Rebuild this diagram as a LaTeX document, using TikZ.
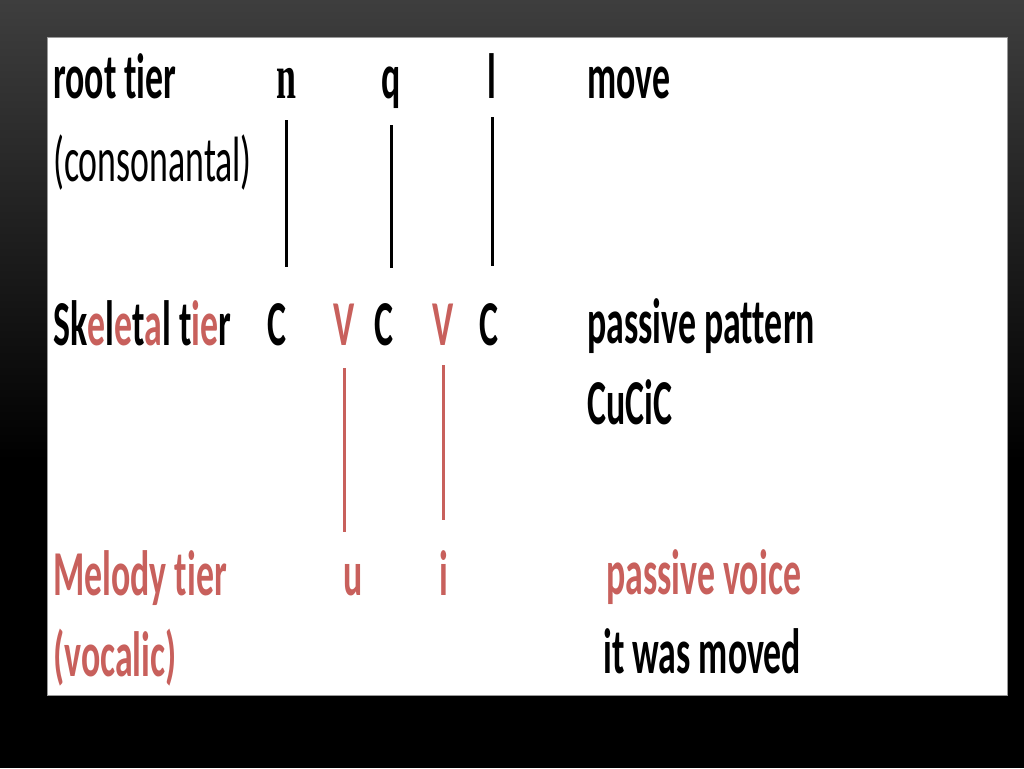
\documentclass[tikz,border=0pt]{standalone}
\usepackage{fontspec}
\setmainfont[FakeStretch=0.56, RawFeature=-liga]{Carlito}
\newfontfamily\slabfont[FakeStretch=0.56]{Liberation Serif}
\usetikzlibrary{positioning}
\definecolor{tierred}{RGB}{200,96,92}
\definecolor{slidetop}{RGB}{62,62,62}

\begin{document}
\begin{tikzpicture}[x=1pt, y=-1pt,
    lab/.style={anchor=base west, inner sep=0pt, font=\fontsize{64}{64}\selectfont\bfseries},
    seg/.style={anchor=base, inner sep=0pt, font=\fontsize{64}{64}\selectfont\bfseries},
    assoc/.style={line width=3pt}]
    \useasboundingbox (0,0) rectangle (1024,768);
    % slide background
    \shade[top color=slidetop, bottom color=black] (0,0) rectangle (1024,460);
    \fill[black] (0,459) rectangle (1024,768);
    \filldraw[fill=white, draw=black!40, line width=0.8pt] (47,37) rectangle (1007,695);

    % root tier
    \node [lab] (root) at (53,98) {root tier};
    \node [lab, font=\fontsize{64}{64}\selectfont] (cons) at (53,181) {(consonantal)};
    \node [seg, font=\fontsize{64}{64}\slabfont\bfseries] (n) at (286.5,98) {n};
    \node [seg] (q) at (391,98) {q};
    \node [seg] (l) at (492,98) {l};
    \node [lab] (move) at (587,98) {move};

    % skeletal tier
    \node [lab] (skel) at (53,345) {Sk{\color{tierred}e}l{\color{tierred}e}t{\color{tierred}a}l t{\color{tierred}ie}r};
    \node [seg] (c1) at (276.5,345) {C};
    \node [seg, text=tierred] (v1) at (344.5,345) {V};
    \node [seg] (c2) at (383.5,345) {C};
    \node [seg, text=tierred] (v2) at (443.5,345) {V};
    \node [seg] (c3) at (489,345) {C};
    \node [lab] (pattern) at (587,343) {passive pattern};
    \node [lab] (cucic) at (587,424) {CuCiC};

    % melody tier
    \node [lab, text=tierred] (melody) at (53,595) {Melody tier};
    \node [lab, text=tierred] (vocalic) at (53,676) {(vocalic)};
    \node [seg, text=tierred] (u) at (353,595) {u};
    \node [seg, text=tierred] (i) at (443.5,595) {i};
    \node [lab, text=tierred] (voice) at (606,594) {passive voice};
    \node [lab] (moved) at (603,673) {it was moved};

    % association lines
    \draw [assoc, shorten <=22pt, shorten >=36pt] (n.south) -- (n.south |- c1.north);
    \draw [assoc, shorten <=17pt, shorten >=35pt] (q.south) -- (q.south |- c2.north);
    \draw [assoc, shorten <=19pt, shorten >=37pt] (l.south) -- (l.south |- c3.north);
    \draw [assoc, tierred, shorten <=23pt, shorten >=32pt] (v1.south) -- (v1.south |- u.north);
    \draw [assoc, tierred, shorten <=20pt, shorten >=30pt] (v2.south) -- (v2.south |- i.north);
\end{tikzpicture}
\end{document}
